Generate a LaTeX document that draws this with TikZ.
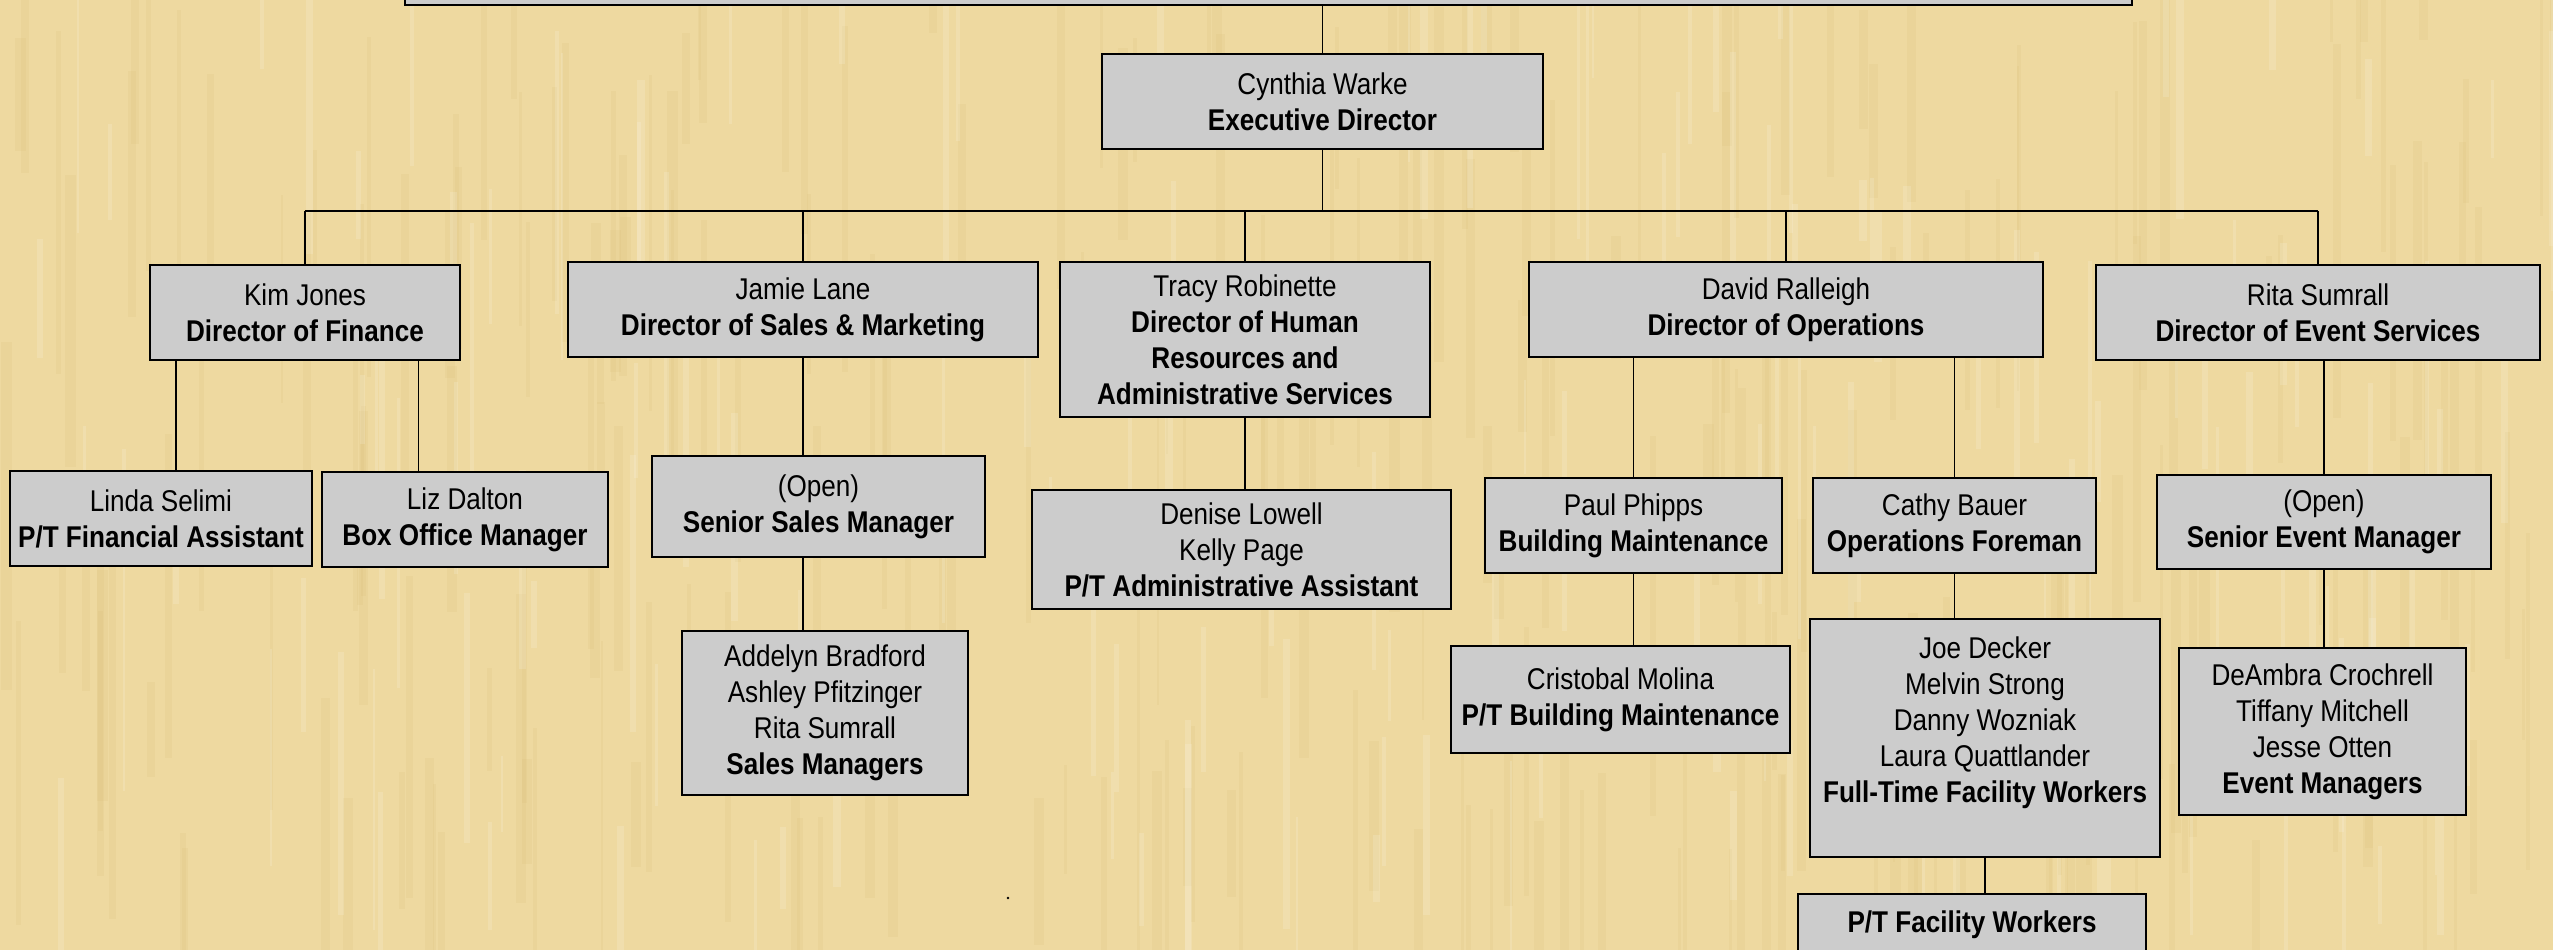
\documentclass[tikz,border=0pt]{standalone}
\usepackage{fontspec}
\setmainfont{Liberation Sans}[FakeStretch=0.87]
\usetikzlibrary{positioning,calc}
\definecolor{parchment}{RGB}{238,217,160}
\definecolor{fibre}{RGB}{214,182,112}
\definecolor{boxgray}{RGB}{204,204,204}
\tikzset{
	staff/.style={draw=black, line width=2.5pt, fill=boxgray, align=center, inner sep=2pt, font=\fontsize{30}{36}\selectfont},
	link/.style={line width=1.5pt}
}
\newcommand{\role}[1]{\textbf{#1}}

\begin{document}
\begin{tikzpicture}[x=1pt, y=-1pt]
	\useasboundingbox (0,0) rectangle (2553,950);
	\fill[parchment] (0,0) rectangle (2553,950);
	\clip (0,0) rectangle (2553,950);
	% paper texture
	\pgfmathsetseed{17}
	\foreach \i in {1,...,260}{
		\pgfmathsetmacro\sx{rnd*2553}
		\pgfmathsetmacro\sy{rnd*950-100}
		\pgfmathsetmacro\sw{2+rnd*9}
		\pgfmathsetmacro\sh{80+rnd*300}
		\fill[fibre, opacity=0.13] (\sx,\sy) rectangle ++(\sw,\sh);
	}
	\foreach \i in {1,...,160}{
		\pgfmathsetmacro\sx{rnd*2553}
		\pgfmathsetmacro\sy{rnd*950-100}
		\pgfmathsetmacro\sw{2+rnd*6}
		\pgfmathsetmacro\sh{60+rnd*250}
		\fill[white, opacity=0.14] (\sx,\sy) rectangle ++(\sw,\sh);
	}
	% top level
	\node[staff, minimum width=1727pt, minimum height=60pt] (board) at (1268.5,-25) {};
	\node[staff, minimum width=441pt, minimum height=95pt] (cynthia) at (1322.5,101.5) {Cynthia Warke\\\role{Executive Director}};
	% directors
	\node[staff, minimum width=310pt, minimum height=95pt] (kim) at (305,312.5) {Kim Jones\\\role{Director of Finance}};
	\node[staff, minimum width=470pt, minimum height=95pt] (jamie) at (803,309.5) {Jamie Lane\\\role{Director of Sales \& Marketing}};
	\node[staff, minimum width=370pt, minimum height=155pt] (tracy) at (1245,339.5) {Tracy Robinette\\\role{Director of Human}\\\role{Resources and}\\\role{Administrative Services}};
	\node[staff, minimum width=514pt, minimum height=95pt] (david) at (1786,309.5) {David Ralleigh\\\role{Director of Operations}};
	\node[staff, minimum width=444pt, minimum height=95pt] (rita) at (2318,312.5) {Rita Sumrall\\\role{Director of Event Services}};
	% staff
	\node[staff, minimum width=302pt, minimum height=95pt] (linda) at (161,518.5) {Linda Selimi\\\role{P/T Financial Assistant}};
	\node[staff, minimum width=286pt, minimum height=95pt] (liz) at (465,519.5) {Liz Dalton\\\role{Box Office Manager}};
	\node[staff, minimum width=333pt, minimum height=101pt] (seniorsales) at (818.5,506.5) {(Open)\\\role{Senior Sales Manager}};
	\node[staff, minimum width=286pt, minimum height=164pt] (salesmgrs) at (825,713) {Addelyn Bradford\\Ashley Pfitzinger\\Rita Sumrall\\\role{Sales Managers}};
	\node[staff, minimum width=419pt, minimum height=119pt] (denise) at (1241.5,549.5) {Denise Lowell\\Kelly Page\\\role{P/T Administrative Assistant}};
	\node[staff, minimum width=297pt, minimum height=95pt] (paul) at (1633.5,525.5) {Paul Phipps\\\role{Building Maintenance}};
	\node[staff, minimum width=283pt, minimum height=95pt] (cathy) at (1954.5,525.5) {Cathy Bauer\\\role{Operations Foreman}};
	\node[staff, minimum width=334pt, minimum height=94pt] (seniorevent) at (2324,522) {(Open)\\\role{Senior Event Manager}};
	\node[staff, minimum width=339pt, minimum height=107pt] (cristobal) at (1620.5,699.5) {Cristobal Molina\\\role{P/T Building Maintenance}};
	\node[staff, minimum width=350pt, minimum height=238pt] (fulltime) at (1985,738) {Joe Decker\\Melvin Strong\\Danny Wozniak\\Laura Quattlander\\\role{Full-Time Facility Workers}\\~};
	\node[staff, minimum width=287pt, minimum height=167pt] (deambra) at (2322.5,731.5) {DeAmbra Crochrell\\Tiffany Mitchell\\Jesse Otten\\\role{Event Managers}};
	\node[staff, minimum width=348pt, minimum height=61pt] (ptfacility) at (1972,924.5) {\role{P/T Facility Workers}};
	% connectors
	\coordinate (bus) at (0,211);
	\draw[link] (cynthia.north |- board.south) -- (cynthia.north);
	\draw[link] (cynthia.south) -- (cynthia.south |- bus);
	\draw[link] (bus -| kim.north) -- (bus -| rita.north);
	\foreach \n in {kim,jamie,tracy,david,rita}
		\draw[link] (bus -| \n.north) -- (\n.north);
	\draw[link] ([xshift=27pt]kim.south west) -- ([xshift=27pt]kim.south west |- linda.north);
	\draw[link] ([xshift=-43pt]kim.south east) -- ([xshift=-43pt]kim.south east |- liz.north);
	\draw[link] (jamie.south) -- (jamie.south |- seniorsales.north);
	\draw[link] (jamie.south |- seniorsales.south) -- (jamie.south |- salesmgrs.north);
	\draw[link] (tracy.south) -- (tracy.south |- denise.north);
	\draw[link] (paul.north |- david.south) -- (paul.north);
	\draw[link] (cathy.north |- david.south) -- (cathy.north);
	\draw[link] (paul.south) -- (paul.south |- cristobal.north);
	\draw[link] (cathy.south) -- (cathy.south |- fulltime.north);
	\draw[link] (fulltime.south) -- (fulltime.south |- ptfacility.north);
	\draw[link] (seniorevent.north |- rita.south) -- (seniorevent.north);
	\draw[link] (seniorevent.south) -- (seniorevent.south |- deambra.north);
	\fill (1008,898) circle (1.3pt);
\end{tikzpicture}
\end{document}
